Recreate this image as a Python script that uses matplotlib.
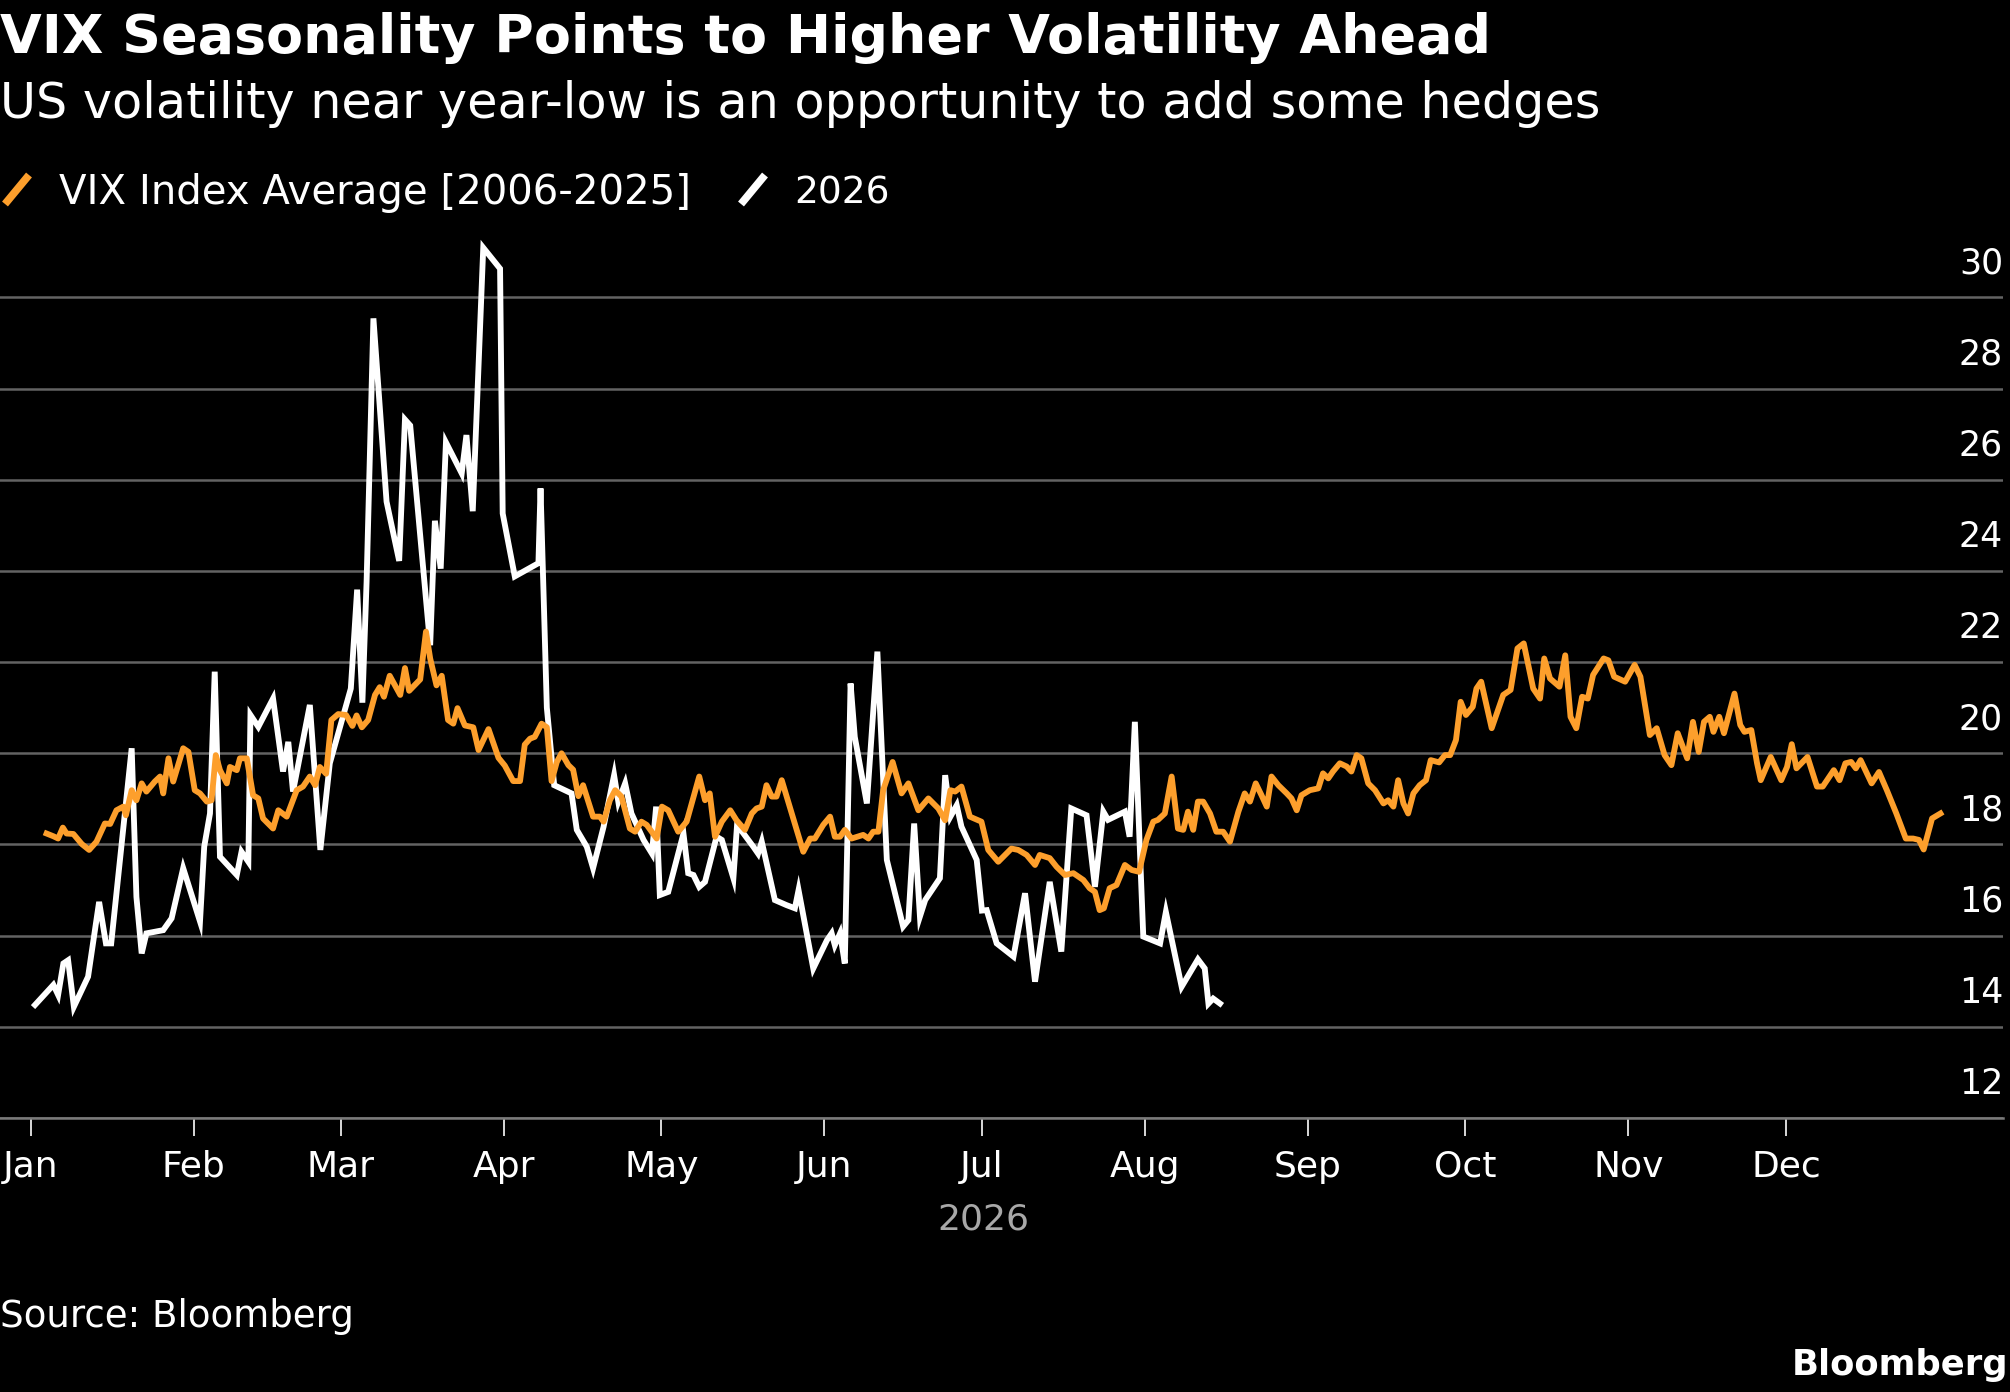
import matplotlib
matplotlib.use('Agg')
import matplotlib.pyplot as plt
from matplotlib.lines import Line2D
from matplotlib.transforms import offset_copy

# VIX average 2006-2025, by day of year (0 = Jan 1)
avg_day = [3.0, 4.3, 5.2, 6.1, 6.8, 8.1, 9.7, 11.1, 12.5, 14.1, 15.1, 16.3, 17.6, 18.1, 19.2, 20.1,
           21.1, 22.0, 23.6, 24.6, 25.2, 26.2, 27.1, 29.0, 30.0, 31.2, 32.2, 33.5, 34.4, 35.2, 36.0,
           37.3, 37.9, 39.2, 39.8, 41.1, 42.3, 43.3, 44.2, 46.1, 47.1, 48.7, 50.6, 51.8, 53.1, 54.1,
           55.0, 56.2, 57.2, 58.5, 60.0, 61.2, 62.0, 63.0, 64.2, 65.5, 66.4, 67.2, 68.3, 70.3, 71.2,
           72.0, 74.1, 75.2, 76.0, 77.2, 78.2, 79.4, 80.4, 81.2, 82.6, 84.2, 85.2, 87.1, 89.0, 90.2,
           91.8, 93.1, 94.0, 95.0, 95.9, 97.2, 98.2, 99.1, 100.1, 101.0, 102.3, 103.2, 104.2, 105.1,
           107.0, 108.3, 109.0, 110.2, 111.2, 112.4, 114.0, 115.0, 116.2, 117.2, 119.1, 120.1, 121.3,
           123.2, 124.8, 127.2, 128.3, 129.2, 130.2, 131.5, 133.1, 134.3, 135.9, 137.2, 138.1, 139.1,
           140.0, 141.0, 141.9, 142.9, 147.0, 148.3, 149.2, 150.8, 152.1, 153.0, 154.0, 154.9, 156.2,
           158.4, 159.4, 160.3, 161.3, 162.2, 164.0, 165.7, 167.0, 168.9, 170.8, 172.7, 174.0, 175.0,
           175.9, 177.1, 178.7, 180.9, 182.2, 184.1, 186.6, 187.9, 189.5, 191.1, 192.0, 193.9, 195.2,
           196.8, 198.4, 200.3, 201.5, 202.5, 203.4, 204.2, 205.3, 206.6, 208.2, 209.5, 210.9, 212.3,
           213.6, 214.5, 215.8, 217.1, 218.3, 219.3, 220.2, 221.2, 222.1, 223.1, 224.4, 225.6, 226.9,
           228.2, 229.8, 231.0, 232.0, 233.1, 234.2, 235.2, 236.1, 237.4, 239.0, 239.9, 240.9, 241.8,
           243.4, 245.0, 245.9, 246.9, 247.8, 249.1, 250.4, 251.3, 252.3, 253.2, 254.5, 255.8, 257.4,
           258.3, 259.3, 260.2, 261.2, 262.1, 263.1, 264.3, 265.5, 266.4, 268.0, 269.1, 270.1, 271.2,
           272.1, 273.1, 274.4, 275.1, 276.0, 278.0, 280.2, 281.6, 282.9, 284.1, 285.9, 287.2, 288.0,
           289.1, 290.9, 292.0, 293.0, 294.1, 295.2, 296.3, 297.3, 299.3, 300.2, 301.3, 303.4, 305.2,
           306.3, 308.1, 309.4, 310.9, 312.2, 313.4, 315.2, 316.3, 317.4, 318.4, 319.5, 320.2, 321.3,
           322.2, 324.2, 325.3, 326.1, 327.4, 328.5, 329.2, 331.1, 333.1, 334.2, 335.1, 336.0, 338.1,
           339.9, 341.0, 343.1, 344.2, 345.3, 346.4, 347.3, 348.2, 350.3, 351.7, 353.2, 355.0, 356.8,
           358.2, 359.3, 360.2, 361.8, 363.4]
avg_vix = [18.24, 18.18, 18.13, 18.37, 18.24, 18.23, 18.01, 17.88, 18.06, 18.46, 18.45, 18.75, 18.83,
           18.64, 19.19, 18.97, 19.34, 19.16, 19.38, 19.49, 19.12, 19.89, 19.38, 20.11, 20.03, 19.19,
           19.12, 18.94, 18.97, 19.96, 19.63, 19.34, 19.70, 19.63, 19.89, 19.89, 19.08, 19.01, 18.57,
           18.35, 18.75, 18.61, 19.19, 19.27, 19.49, 19.30, 19.70, 19.55, 20.73, 20.86, 20.84, 20.60,
           20.83, 20.57, 20.73, 21.28, 21.45, 21.24, 21.70, 21.28, 21.87, 21.37, 21.62, 22.67, 22.08,
           21.49, 21.70, 20.73, 20.65, 20.99, 20.61, 20.57, 20.07, 20.53, 19.90, 19.73, 19.39, 19.39,
           20.19, 20.32, 20.36, 20.65, 20.57, 19.39, 19.81, 20.00, 19.74, 19.64, 19.06, 19.30, 18.61,
           18.61, 18.50, 18.97, 19.19, 19.05, 18.35, 18.28, 18.50, 18.43, 18.13, 18.83, 18.75, 18.28,
           18.50, 19.49, 18.97, 19.12, 18.17, 18.50, 18.75, 18.53, 18.32, 18.68, 18.79, 18.83, 19.30,
           19.05, 19.05, 19.41, 17.84, 18.13, 18.13, 18.43, 18.61, 18.17, 18.17, 18.32, 18.13, 18.21,
           18.13, 18.28, 18.28, 19.19, 19.81, 19.12, 19.34, 18.75, 19.01, 18.79, 18.53, 19.19, 19.16,
           19.27, 18.61, 18.50, 17.88, 17.62, 17.91, 17.88, 17.77, 17.55, 17.77, 17.70, 17.51, 17.33,
           17.37, 17.22, 17.04, 16.96, 16.56, 16.60, 17.04, 17.11, 17.55, 17.44, 17.40, 18.10, 18.50,
           18.54, 18.68, 19.49, 18.35, 18.32, 18.72, 18.32, 18.94, 18.94, 18.68, 18.28, 18.28, 18.06,
           18.72, 19.12, 18.94, 19.34, 19.08, 18.83, 19.49, 19.30, 19.12, 19.01, 18.75, 19.08, 19.19,
           19.23, 19.56, 19.45, 19.60, 19.78, 19.71, 19.60, 19.96, 19.89, 19.34, 19.19, 18.90, 18.97,
           18.83, 19.41, 18.90, 18.68, 19.12, 19.30, 19.41, 19.85, 19.80, 19.96, 19.96, 20.29, 21.13,
           20.84, 21.02, 21.42, 21.57, 20.55, 21.28, 21.39, 22.30, 22.41, 21.42, 21.20, 22.08, 21.64,
           21.46, 22.15, 20.80, 20.55, 21.24, 21.20, 21.72, 22.08, 22.04, 21.68, 21.57, 21.94, 21.68,
           20.40, 20.55, 19.96, 19.74, 20.44, 19.89, 20.69, 20.03, 20.69, 20.80, 20.47, 20.80, 20.44,
           21.31, 20.62, 20.47, 20.51, 19.78, 19.41, 19.92, 19.41, 19.70, 20.20, 19.67, 19.92, 19.27,
           19.27, 19.63, 19.41, 19.78, 19.81, 19.67, 19.85, 19.34, 19.59, 19.19, 18.68, 18.13, 18.13,
           18.10, 17.89, 18.57, 18.68]

# VIX 2026 so far
y26_day = [0.8, 4.3, 5.2, 6.2, 7.1, 8.2, 10.9, 13.0, 14.3, 15.3, 19.2, 20.1, 21.1, 22.0, 25.2, 26.8,
           29.0, 32.2, 33.0, 34.1, 35.0, 36.0, 39.2, 40.1, 41.4, 41.8, 43.3, 46.1, 48.0, 49.0, 49.9,
           53.1, 55.1, 56.9, 60.9, 62.1, 63.1, 63.9, 65.2, 67.7, 70.1, 71.2, 72.2, 76.0, 76.9, 78.0,
           79.0, 82.0, 82.9, 84.1, 86.1, 89.3, 89.8, 92.1, 96.6, 97.0, 98.2, 99.6, 102.9, 103.9, 105.8,
           107.0, 109.0, 111.0, 111.8, 113.1, 114.3, 116.6, 118.2, 119.0, 119.7, 121.3, 124.2, 125.1,
           126.1, 127.2, 128.3, 130.5, 131.5, 133.7, 134.4, 137.5, 138.4, 139.1, 141.6, 143.8, 145.4,
           146.1, 148.9, 151.5, 152.4, 153.0, 154.0, 154.9, 156.0, 156.8, 159.1, 161.1, 162.9, 166.0,
           167.0, 168.1, 169.2, 170.2, 173.0, 174.0, 175.0, 176.2, 177.1, 180.0, 181.0, 181.9, 183.8,
           187.0, 189.2, 191.1, 193.9, 196.1, 198.0, 200.9, 202.5, 204.1, 205.0, 208.2, 209.1, 210.1,
           211.7, 214.9, 216.0, 219.0, 222.1, 223.4, 224.1, 225.0, 226.3]
y26_vix = [14.48, 14.92, 14.70, 15.39, 15.46, 14.44, 15.10, 16.74, 15.83, 15.83, 20.11, 16.85, 15.61,
           16.05, 16.12, 16.38, 17.48, 16.31, 17.95, 18.68, 21.79, 17.73, 17.33, 17.84, 17.62, 20.84,
           20.58, 21.20, 19.60, 20.25, 19.16, 21.06, 17.88, 19.78, 21.42, 23.59, 21.11, 23.76, 29.54,
           25.52, 24.22, 27.32, 27.19, 22.37, 25.10, 24.05, 26.82, 26.14, 26.98, 25.31, 31.09, 30.63,
           25.26, 23.88, 24.17, 25.81, 21.00, 19.30, 19.12, 18.32, 17.95, 17.48, 18.39, 19.52, 18.94,
           19.34, 18.68, 18.10, 17.80, 18.83, 16.89, 16.96, 18.24, 17.37, 17.33, 17.07, 17.18, 18.17,
           18.10, 17.26, 18.43, 17.95, 17.80, 18.06, 16.78, 16.67, 16.60, 17.00, 15.28, 15.90, 16.05,
           15.79, 16.05, 15.39, 21.53, 20.36, 18.90, 22.23, 17.66, 16.20, 16.34, 18.46, 16.42, 16.78,
           17.26, 19.52, 18.61, 18.86, 18.39, 17.66, 16.55, 16.56, 15.83, 15.54, 16.93, 14.99, 17.18,
           15.65, 18.79, 18.64, 17.07, 18.72, 18.54, 18.72, 18.17, 20.69, 15.98, 15.83, 16.52, 14.88,
           15.48, 15.28, 14.51, 14.62, 14.51]

month_start = [0, 31, 59, 90, 120, 151, 181, 212, 243, 273, 304, 334]
month_names = ['Jan', 'Feb', 'Mar', 'Apr', 'May', 'Jun', 'Jul', 'Aug', 'Sep', 'Oct', 'Nov', 'Dec']
y_ticks = [12, 14, 16, 18, 20, 22, 24, 26, 28, 30]

ORANGE = '#fd9f2c'
GRID = '#636363'
W, H = 2010, 1392

plt.rcParams['font.family'] = ['DejaVu Sans']
fig = plt.figure(figsize=(W / 100, H / 100), dpi=100, facecolor='black')

ax = fig.add_axes([0, (H - 1118) / H, 2003 / W, (1118 - 229) / H])
ax.set_facecolor('black')
ax.set_xlim(-5.86, 375.3)
ax.set_ylim(12, 31.5)

ax.plot(y26_day, y26_vix, color='white', lw=4.2, solid_joinstyle='miter', zorder=3)
ax.plot(avg_day, avg_vix, color=ORANGE, lw=4.2, solid_joinstyle='round', zorder=4)

for s in ['top', 'left', 'right']:
    ax.spines[s].set_visible(False)
ax.spines['bottom'].set_color('#7a7a7a')
ax.spines['bottom'].set_linewidth(1.8)

ax.set_yticks(y_ticks)
ax.yaxis.grid(True, color=GRID, lw=1.8)
ax.tick_params(axis='y', left=False, labelleft=False)
ax.set_axisbelow(True)

# value labels sit above their gridline, right aligned
lab_tr = offset_copy(ax.get_yaxis_transform(), fig=fig, y=34, units='dots')
for v in y_ticks:
    ax.text(1.0, v, str(v), transform=lab_tr, ha='right', va='center',
            color='white', fontsize=25)

ax.set_xticks(month_start)
ax.set_xticklabels(month_names)
ax.tick_params(axis='x', length=13, width=1.4, color='#d8d8d8', labelcolor='white',
               labelsize=26, pad=10)

# titles and legend
fig.text(0.0, 1 - 53 / H, 'VIX Seasonality Points to Higher Volatility Ahead',
         color='white', fontsize=38.8, fontweight='bold', va='baseline')
fig.text(0.0, 1 - 118 / H, 'US volatility near year-low is an opportunity to add some hedges',
         color='white', fontsize=35.5, va='baseline')

fig.add_artist(Line2D([5 / W, 29 / W], [1 - 204 / H, 1 - 175 / H], transform=fig.transFigure,
                      color=ORANGE, lw=5.5, solid_capstyle='butt'))
fig.text(59 / W, 1 - 204 / H, 'VIX Index Average [2006-2025]', color='white', fontsize=29,
         va='baseline')
fig.add_artist(Line2D([741 / W, 765 / W], [1 - 204 / H, 1 - 175 / H], transform=fig.transFigure,
                      color='white', lw=5.5, solid_capstyle='butt'))
fig.text(794 / W, 1 - 204 / H, '2026', color='white', fontsize=27, va='baseline')

fig.text(983 / W, 1 - 1230 / H, '2026', color='#a8a8a8', fontsize=26, ha='center', va='baseline')
fig.text(0.0, 1 - 1327 / H, 'Source: Bloomberg', color='white', fontsize=26.7, va='baseline')
fig.text(2008 / W, 1 - 1375 / H, 'Bloomberg', color='white', fontsize=25.5, fontweight='bold',
         ha='right', va='baseline')

fig.savefig('out.png', dpi=100, facecolor='black')
